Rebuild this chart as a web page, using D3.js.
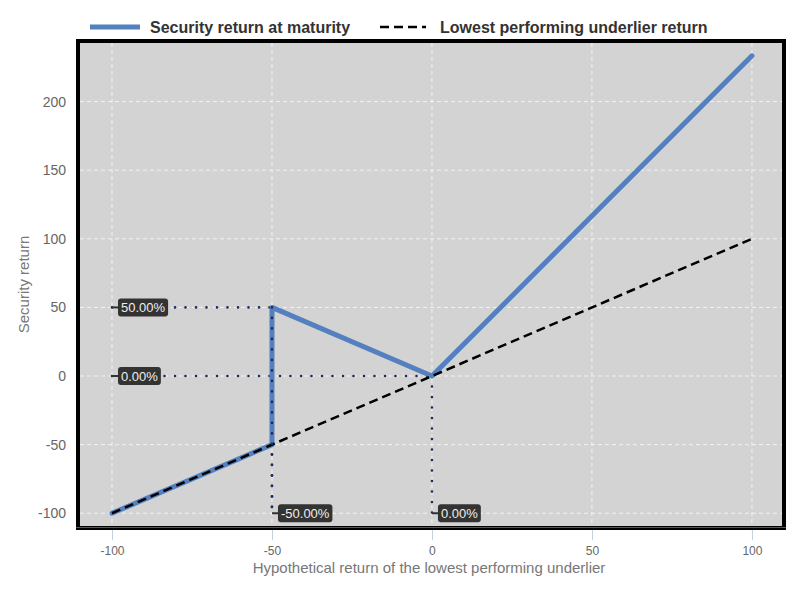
<!DOCTYPE html>
<html><head><meta charset="utf-8">
<script src="https://cdn.jsdelivr.net/npm/d3@7"></script>
<style>body{margin:0;background:#fff;font-family:"Liberation Sans",Arial,sans-serif;}</style>
</head><body>
<svg id="c" width="807" height="611"></svg>
<script>
const underlierX = [-100, -50, -50, 0, 100];
const securityY = [-100, -50, 50, 0, 233.33];
const dashedX = [-100, 100];
const dashedY = [-100, 100];
const xTicks = [-100, -50, 0, 50, 100];
const yTicks = [-100, -50, 0, 50, 100, 150, 200];
const annotations = [
  {x: -100, y: 50, label: "50.00%"},
  {x: -100, y: 0, label: "0.00%"},
  {x: -50, y: -100, label: "-50.00%"},
  {x: 0, y: -100, label: "0.00%"}
];
const guides = [
  [[-100, 50], [-50, 50]],
  [[-100, 0], [0, 0]],
  [[-50, 50], [-50, -100]],
  [[0, 0], [0, -100]]
];
const seriesNames = ["Security return at maturity", "Lowest performing underlier return"];

const svg = d3.select("#c");
const L = 80, R = 782, T = 43, B = 526;
const x = d3.scaleLinear().domain([-110, 109.4]).range([L, R]);
const y = d3.scaleLinear().domain([-109.3, 242.7]).range([B, T]);
const fmt = d => String(d);

svg.append("rect").attr("x", L).attr("y", T).attr("width", R - L).attr("height", B - T).attr("fill", "#d3d3d3");

// grid
svg.append("g").selectAll("line").data(xTicks).join("line")
  .attr("x1", d => x(d)).attr("x2", d => x(d)).attr("y1", T).attr("y2", B)
  .attr("stroke", "#f2f2f2").attr("stroke-width", 1).attr("stroke-dasharray", "4,3");
svg.append("g").selectAll("line").data(yTicks).join("line")
  .attr("y1", d => y(d)).attr("y2", d => y(d)).attr("x1", L).attr("x2", R)
  .attr("stroke", "#f2f2f2").attr("stroke-width", 1).attr("stroke-dasharray", "4,3");

// frame
svg.append("rect").attr("x", L - 2).attr("y", T - 2).attr("width", R - L + 4).attr("height", B - T + 4)
  .attr("fill", "none").attr("stroke", "#000").attr("stroke-width", 4);
svg.append("line").attr("x1", L - 4).attr("x2", R + 4).attr("y1", B + 1.5).attr("y2", B + 1.5)
  .attr("stroke", "#555").attr("stroke-width", 1);

// axes
const xAxis = svg.append("g").attr("transform", `translate(0,${B + 4})`)
  .call(d3.axisBottom(x).tickValues(xTicks).tickSize(10).tickPadding(6).tickFormat(fmt));
xAxis.select(".domain").remove();
xAxis.selectAll(".tick line").attr("stroke", "#c0d0e0");
xAxis.selectAll("text").attr("fill", "#666").attr("font-size", 12).attr("font-family", "Liberation Sans, Arial, sans-serif");

const yAxis = svg.append("g").attr("transform", `translate(${L - 4},0)`)
  .call(d3.axisLeft(y).tickValues(yTicks).tickSize(0).tickPadding(10).tickFormat(fmt));
yAxis.select(".domain").remove();
yAxis.selectAll("text").attr("fill", "#666").attr("font-size", 14).attr("font-family", "Liberation Sans, Arial, sans-serif");

svg.append("text").attr("x", (L + R) / 2 - 2).attr("y", 573).attr("text-anchor", "middle")
  .attr("fill", "#777").attr("font-size", 15).text("Hypothetical return of the lowest performing underlier");
svg.append("text").attr("transform", `translate(29,${(T + B) / 2}) rotate(-90)`).attr("text-anchor", "middle")
  .attr("fill", "#777").attr("font-size", 15).text("Security return");

// guides
const gl = d3.line().x(d => x(d[0])).y(d => y(d[1]));
svg.append("g").selectAll("path").data(guides).join("path")
  .attr("d", gl).attr("fill", "none").attr("stroke", "#1f2a5c").attr("stroke-width", 2.6)
  .attr("stroke-linecap", "round").attr("stroke-dasharray", "0,10.5");

// series
const pts = underlierX.map((d, i) => [d, securityY[i]]);
svg.append("path").attr("d", gl(pts)).attr("fill", "none").attr("stroke", "#5580c0")
  .attr("stroke-width", 5).attr("stroke-linejoin", "round").attr("stroke-linecap", "round");
const dpts = dashedX.map((d, i) => [d, dashedY[i]]);
svg.append("path").attr("d", gl(dpts)).attr("fill", "none").attr("stroke", "#000")
  .attr("stroke-width", 2.5).attr("stroke-dasharray", "9,5");

// redraw guide dots on top of vertical blue segment
svg.append("g").selectAll("path").data([guides[2]]).join("path")
  .attr("d", gl).attr("fill", "none").attr("stroke", "#1f2a5c").attr("stroke-width", 2.6)
  .attr("stroke-linecap", "round").attr("stroke-dasharray", "0,10.5");

// annotation labels
const ag = svg.append("g").selectAll("g").data(annotations).join("g")
  .attr("transform", d => `translate(${x(d.x)},${y(d.y)})`);
ag.append("line").attr("x1", 0).attr("x2", 7).attr("y1", 0).attr("y2", 0).attr("stroke", "#333").attr("stroke-width", 2);
ag.each(function(d) {
  const g = d3.select(this);
  const t = g.append("text").attr("x", 9).attr("y", 4.5).attr("fill", "#eee").attr("font-size", 13).text(d.label);
  const w = t.node().getComputedTextLength();
  g.insert("rect", "text").attr("x", 6).attr("y", -9).attr("width", w + 6).attr("height", 18).attr("rx", 3)
    .attr("fill", "#333");
});

// legend
const lg = svg.append("g");
lg.append("line").attr("x1", 90).attr("x2", 140).attr("y1", 27).attr("y2", 27).attr("stroke", "#5580c0").attr("stroke-width", 5);
lg.append("text").attr("x", 150).attr("y", 33).attr("font-size", 16).attr("font-weight", "bold").attr("fill", "#333").text(seriesNames[0]);
lg.append("line").attr("x1", 380).attr("x2", 426).attr("y1", 27).attr("y2", 27).attr("stroke", "#000").attr("stroke-width", 2.5).attr("stroke-dasharray", "9,5");
lg.append("text").attr("x", 440).attr("y", 33).attr("font-size", 16).attr("font-weight", "bold").attr("fill", "#333").text(seriesNames[1]);
</script>
</body></html>
